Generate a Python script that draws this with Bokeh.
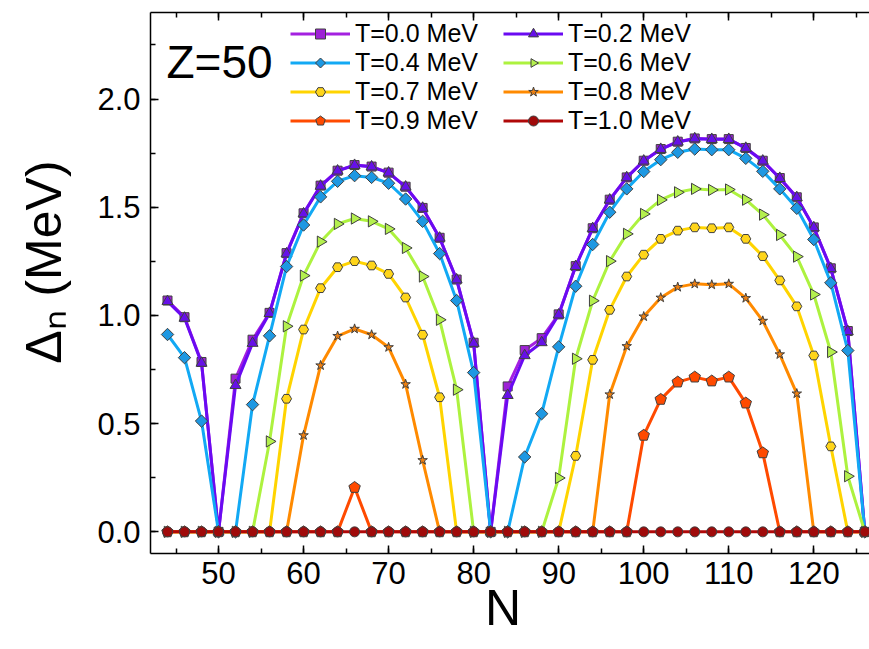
import math
from bokeh.plotting import figure
from bokeh.models import (ColumnDataSource, Range1d, LinearAxis, Label, Legend,
                          LegendItem, PrintfTickFormatter, CustomJSTickFormatter)
from bokeh.embed import file_html
from bokeh.resources import INLINE

N = [44, 46, 48, 50, 52, 54, 56, 58, 60, 62, 64, 66, 68, 70, 72, 74, 76, 78, 80, 82,
     84, 86, 88, 90, 92, 94, 96, 98, 100, 102, 104, 106, 108, 110, 112, 114, 116, 118,
     120, 122, 124, 126]

T00 = [1.069, 0.992, 0.785, 0, 0.708, 0.888, 1.012, 1.288, 1.472, 1.600, 1.669, 1.695,
       1.688, 1.660, 1.595, 1.497, 1.359, 1.166, 0.874, 0, 0.672, 0.840, 0.895, 1.005,
       1.228, 1.403, 1.535, 1.638, 1.715, 1.769, 1.803, 1.818, 1.815, 1.815, 1.774,
       1.715, 1.635, 1.546, 1.407, 1.218, 0.928, 0]
T02 = [1.065, 0.988, 0.780, 0, 0.677, 0.872, 1.010, 1.285, 1.470, 1.598, 1.668, 1.694,
       1.687, 1.659, 1.594, 1.496, 1.358, 1.165, 0.872, 0, 0.631, 0.815, 0.875, 1.003,
       1.227, 1.402, 1.534, 1.637, 1.714, 1.768, 1.802, 1.817, 1.814, 1.814, 1.773,
       1.714, 1.634, 1.545, 1.406, 1.217, 0.926, 0]
T04 = [0.912, 0.805, 0.512, 0, 0, 0.588, 0.906, 1.226, 1.418, 1.548, 1.620, 1.646,
       1.638, 1.611, 1.538, 1.435, 1.286, 1.069, 0.736, 0, 0, 0.346, 0.546, 0.855,
       1.135, 1.328, 1.477, 1.585, 1.665, 1.720, 1.754, 1.769, 1.766, 1.766, 1.726,
       1.666, 1.585, 1.495, 1.351, 1.151, 0.838, 0]
T06 = [0, 0, 0, 0, 0, 0, 0.418, 0.950, 1.184, 1.341, 1.423, 1.448, 1.435, 1.400, 1.312,
       1.180, 0.980, 0.657, 0, 0, 0, 0, 0, 0.249, 0.800, 1.068, 1.251, 1.377, 1.469,
       1.534, 1.569, 1.585, 1.580, 1.582, 1.535, 1.466, 1.372, 1.272, 1.097, 0.831,
       0.257, 0]
T07 = [0, 0, 0, 0, 0, 0, 0, 0.615, 0.935, 1.126, 1.223, 1.251, 1.231, 1.192, 1.083,
       0.911, 0.622, 0, 0, 0, 0, 0, 0, 0, 0.351, 0.795, 1.026, 1.180, 1.281, 1.354,
       1.392, 1.407, 1.403, 1.407, 1.354, 1.274, 1.162, 1.042, 0.815, 0.395, 0, 0]
T08 = [0, 0, 0, 0, 0, 0, 0, 0, 0.446, 0.769, 0.905, 0.938, 0.911, 0.853, 0.682, 0.331,
       0, 0, 0, 0, 0, 0, 0, 0, 0, 0, 0.635, 0.858, 0.995, 1.082, 1.131, 1.146, 1.142,
       1.146, 1.080, 0.975, 0.820, 0.639, 0, 0, 0, 0]
T09 = [0, 0, 0, 0, 0, 0, 0, 0, 0, 0, 0, 0.205, 0, 0, 0, 0, 0, 0, 0, 0, 0, 0, 0, 0, 0,
       0, 0, 0, 0.446, 0.612, 0.692, 0.715, 0.697, 0.715, 0.595, 0.365, 0, 0, 0, 0, 0, 0]
T10 = [0] * len(N)

labels = ["T=0.0 MeV", "T=0.2 MeV", "T=0.4 MeV", "T=0.6 MeV",
          "T=0.7 MeV", "T=0.8 MeV", "T=0.9 MeV", "T=1.0 MeV"]
series = [T00, T02, T04, T06, T07, T08, T09, T10]
line_colors = ["#A420E0", "#6A0AF2", "#12A9F4", "#ADF23F",
               "#FFD400", "#FF8A00", "#FF4A00", "#B00808"]
fill_colors = ["#9E22D6", "#6610E8", "#1E98E2", "#B4F04E",
               "#FFD51A", "#F08010", "#FF4A00", "#A00A0A"]
# marker spec: ("scatter", marker, size) or ("ngon", n, radius, angle)
marker_specs = [("scatter", "square", 9), ("scatter", "triangle", 11),
                ("ngon", 4, 6.2, 0.0), ("ngon", 3, 6.5, -math.pi / 2),
                ("scatter", "hex", 10), ("scatter", "star", 10),
                ("ngon", 5, 6.0, 0.0), ("scatter", "circle", 10)]

FONT = "Liberation Sans"
NBSP = "\u00a0"

p = figure(width=869, height=649, output_backend="svg", toolbar_location=None,
           x_range=Range1d(42, 126.55), y_range=Range1d(-0.1, 2.4),
           min_border_left=150, min_border_right=0, min_border_top=12,
           min_border_bottom=96)
p.grid.visible = False
p.outline_line_alpha = 0
p.background_fill_color = "white"
p.border_fill_color = "white"

for ax in (p.xaxis[0], p.yaxis[0]):
    ax.major_tick_in = 8
    ax.major_tick_out = 0
    ax.minor_tick_in = 5
    ax.minor_tick_out = 0
    ax.axis_line_width = 1.5
    ax.major_tick_line_width = 1.5
    ax.minor_tick_line_width = 1.5
    ax.major_label_text_font = FONT
    ax.major_label_text_font_size = "31px"
    ax.major_label_text_color = "black"
    ax.axis_label_text_font = FONT
    ax.axis_label_text_font_style = "normal"
    ax.axis_label_text_color = "black"

p.xaxis[0].ticker.desired_num_ticks = 9
p.xaxis[0].ticker.num_minor_ticks = 2
p.xaxis[0].major_label_standoff = 8
p.xaxis[0].axis_label = "N" + NBSP
p.xaxis[0].axis_label_text_font_size = "50px"
p.xaxis[0].axis_label_standoff = -7

p.yaxis[0].ticker.desired_num_ticks = 5
p.yaxis[0].ticker.num_minor_ticks = 2
p.yaxis[0].major_label_standoff = 10
p.yaxis[0].formatter = PrintfTickFormatter(format="%.1f")
p.yaxis[0].axis_label = NBSP * 3 + "Δₙ (MeV)"
p.yaxis[0].axis_label_text_font_size = "50px"
p.yaxis[0].axis_label_standoff = 22

top = LinearAxis(formatter=CustomJSTickFormatter(code="return ''"),
                 major_tick_in=8, major_tick_out=0,
                 minor_tick_in=5, minor_tick_out=0, axis_line_width=1.5,
                 major_tick_line_width=1.5, minor_tick_line_width=1.5,
                 major_label_standoff=0)
top.ticker.desired_num_ticks = 9
top.ticker.num_minor_ticks = 2
p.add_layout(top, "above")

src = ColumnDataSource(dict(N=N, **{f"s{i}": s for i, s in enumerate(series)}))

items = []
for i, lab in enumerate(labels):
    r_line = p.line("N", f"s{i}", source=src, line_color=line_colors[i], line_width=3)
    spec = marker_specs[i]
    if spec[0] == "ngon":
        r_mark = p.ngon("N", f"s{i}", source=src, n=spec[1], radius=spec[2],
                        radius_units="screen", angle=spec[3],
                        fill_color=fill_colors[i], line_color="#404040", line_width=1)
    else:
        r_mark = p.scatter("N", f"s{i}", source=src, marker=spec[1], size=spec[2],
                           fill_color=fill_colors[i], line_color="#404040", line_width=1)
    items.append(LegendItem(label=lab, renderers=[r_line, r_mark]))

legend = Legend(items=items, orientation="horizontal", ncols=2, location=(140, 418),
                label_text_font=FONT, label_text_font_size="25px",
                label_text_color="black",
                glyph_width=60, glyph_height=25, label_height=25, label_width=148,
                label_standoff=5, spacing=0, padding=0, margin=0,
                border_line_alpha=0, background_fill_alpha=0)
p.add_layout(legend, "center")

p.add_layout(Label(x=16, y=466, x_units="screen", y_units="screen", text="Z=50",
                   text_font=FONT, text_font_size="46px", text_color="black"))

open("out.html", "w").write(file_html(p, INLINE))
